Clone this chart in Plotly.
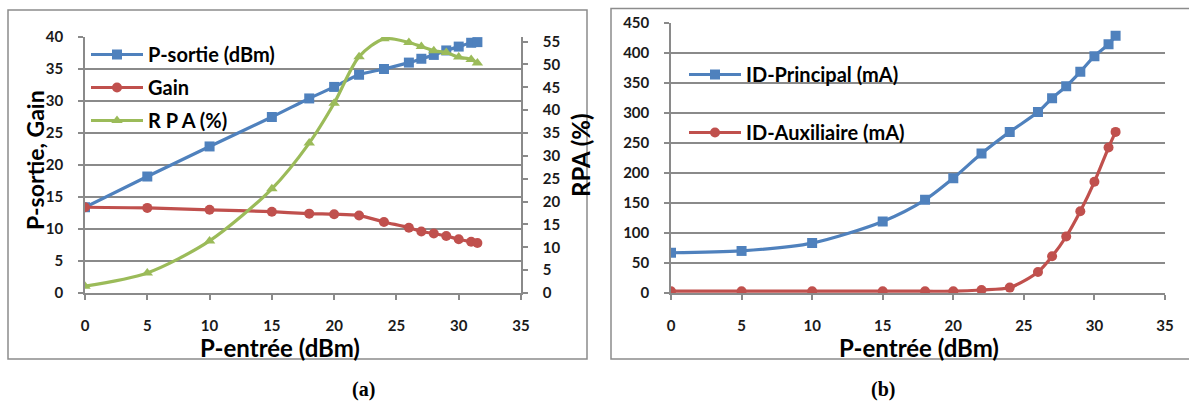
import plotly.graph_objects as go

# ---------------- data ----------------
p_in = [0, 5, 10, 15, 18, 20, 22, 24, 26, 27, 28, 29, 30, 31, 31.5]
p_out = [13.4, 18.2, 22.9, 27.5, 30.4, 32.2, 34.1, 35.0, 36.0, 36.6, 37.2, 37.9, 38.5, 39.1, 39.2]
gain = [13.4, 13.3, 13.0, 12.7, 12.4, 12.3, 12.1, 11.1, 10.2, 9.6, 9.3, 8.9, 8.4, 8.0, 7.8]
rpa = [1.5, 4.4, 11.4, 22.8, 32.8, 41.5, 51.7, 55.6, 54.8, 53.9, 53.0, 52.6, 51.6, 51.1, 50.3]
id_main = [67, 70, 83, 119, 155, 191, 232, 268, 301, 324, 344, 368, 394, 414, 428]
id_aux = [3, 3, 3, 3, 3, 3, 5, 9, 35, 61, 94, 136, 185, 242, 268]

names_a = ["P-sortie (dBm)", "Gain", "R P A (%)"]
names_b = ["ID-Principal (mA)", "ID-Auxiliaire (mA)"]
x_title = "P-entrée (dBm)"
y_title_a = "P-sortie, Gain"
y2_title_a = "RPA (%)"
captions = ["(a)", "(b)"]

BLUE = "#4F81BD"
RED = "#C0504D"
GREEN = "#9BBB59"
GRID = "#8a8a8a"
FONT = "Lato"

W, H = 1189, 401


def px(x):
    return x / W


def py(y):
    return 1 - y / H


def b(s):
    return "<b>" + s + "</b>"


fig = go.Figure()

line_kw = dict(shape="spline", smoothing=0.8, width=3.2)

fig.add_trace(go.Scatter(x=p_in, y=p_out, name=b(names_a[0]), mode="lines+markers",
                         line=dict(color=BLUE, **line_kw),
                         marker=dict(symbol="square", size=10, color=BLUE),
                         xaxis="x", yaxis="y", legend="legend", legendgroup="a1"))
fig.add_trace(go.Scatter(x=p_in, y=gain, name=b(names_a[1]), mode="lines+markers",
                         line=dict(color=RED, **line_kw),
                         marker=dict(symbol="circle", size=10, color=RED),
                         xaxis="x", yaxis="y", legend="legend", legendgroup="a2"))
fig.add_trace(go.Scatter(x=p_in, y=rpa, name=b(names_a[2]), mode="lines+markers",
                         line=dict(color=GREEN, **line_kw),
                         marker=dict(symbol="triangle-up", size=10, color=GREEN),
                         xaxis="x", yaxis="y2", legend="legend", legendgroup="a3"))
fig.add_trace(go.Scatter(x=p_in, y=id_main, name=b(names_b[0]), mode="lines+markers",
                         line=dict(color=BLUE, **line_kw),
                         marker=dict(symbol="square", size=10, color=BLUE),
                         xaxis="x2", yaxis="y3", legend="legend2", legendgroup="b1"))
fig.add_trace(go.Scatter(x=p_in, y=id_aux, name=b(names_b[1]), mode="lines+markers",
                         line=dict(color=RED, **line_kw),
                         marker=dict(symbol="circle", size=10, color=RED),
                         xaxis="x2", yaxis="y3", legend="legend2", legendgroup="b2"))

tickfont = dict(family=FONT, size=15, color="#1a1a1a", weight="bold")

xdom_a = [px(85), px(521)]
xdom_b = [px(671), px(1165)]
ydom_a = [py(293), py(37)]
ydom_b = [py(293), py(22.5)]

common_x = dict(range=[0, 35], dtick=5, tick0=0, showgrid=False, zeroline=False,
                showline=True, linecolor=GRID, linewidth=1.5, ticks="outside",
                ticklen=5, tickcolor=GRID, tickwidth=1.5, tickfont=tickfont,
                ticklabelstandoff=13, automargin=False)

yax_common = dict(zeroline=False, showline=True, linecolor=GRID, linewidth=1.5,
                  ticks="outside", ticklen=5, tickcolor=GRID, tickwidth=1.5,
                  tickfont=tickfont, ticklabelstandoff=12, automargin=False)

fig.update_layout(
    width=W, height=H,
    margin=dict(l=0, r=0, t=0, b=0),
    paper_bgcolor="white", plot_bgcolor="white",
    xaxis=dict(domain=xdom_a, anchor="y", **common_x),
    xaxis2=dict(domain=xdom_b, anchor="y3", **common_x),
    yaxis=dict(domain=ydom_a, anchor="x", range=[0, 40], dtick=5, showgrid=True,
               gridcolor=GRID, gridwidth=1.6, **yax_common),
    yaxis2=dict(domain=ydom_a, anchor="x", overlaying="y", side="right", range=[0, 56],
                dtick=5, showgrid=False, **yax_common),
    yaxis3=dict(domain=ydom_b, anchor="x2", range=[0, 450], dtick=50, showgrid=True,
                gridcolor=GRID, gridwidth=1.6, **yax_common),
    legend=dict(x=px(86), y=py(35), xanchor="left", yanchor="top",
                bgcolor="rgba(0,0,0,0)", borderwidth=0, tracegroupgap=4,
                itemwidth=52,
                font=dict(family=FONT, size=20, color="#000")),
    legend2=dict(x=px(684), y=py(55), xanchor="left", yanchor="top",
                 bgcolor="rgba(0,0,0,0)", borderwidth=0, tracegroupgap=29,
                 itemwidth=52,
                 font=dict(family=FONT, size=20, color="#000")),
    showlegend=True,
)

# axis titles
title_font = dict(family=FONT, size=24, color="#000")
for cx in [280, 919]:
    fig.add_annotation(text=b(x_title), xref="paper", yref="paper", x=px(cx), y=py(347),
                       showarrow=False, xanchor="center", yanchor="middle", font=title_font)
fig.add_annotation(text=b(y_title_a), xref="paper", yref="paper", x=px(35), y=py(160),
                   showarrow=False, xanchor="center", yanchor="middle", textangle=-90,
                   font=dict(family=FONT, size=23, color="#000"))
fig.add_annotation(text=b(y2_title_a), xref="paper", yref="paper", x=px(580), y=py(155),
                   showarrow=False, xanchor="center", yanchor="middle", textangle=-90,
                   font=dict(family=FONT, size=24, color="#000"))

# outer frames of the two panels
fig.add_shape(type="rect", xref="paper", yref="paper", x0=px(8), x1=px(587),
              y0=py(359), y1=py(10), line=dict(color="#8c8c8c", width=1.5))
fig.add_shape(type="rect", xref="paper", yref="paper", x0=px(611), x1=px(1200),
              y0=py(359), y1=py(8.5), line=dict(color="#8c8c8c", width=1.5))

# captions
for cap, cx in zip(captions, [363, 883]):
    fig.add_annotation(text=b(cap), xref="paper", yref="paper", x=px(cx), y=py(389),
                       showarrow=False, xanchor="center", yanchor="middle",
                       font=dict(family="Liberation Serif", size=20, color="#000"))

fig.write_html("out.html", config={"displayModeBar": False},
               post_script="document.body.style.margin='0';")
